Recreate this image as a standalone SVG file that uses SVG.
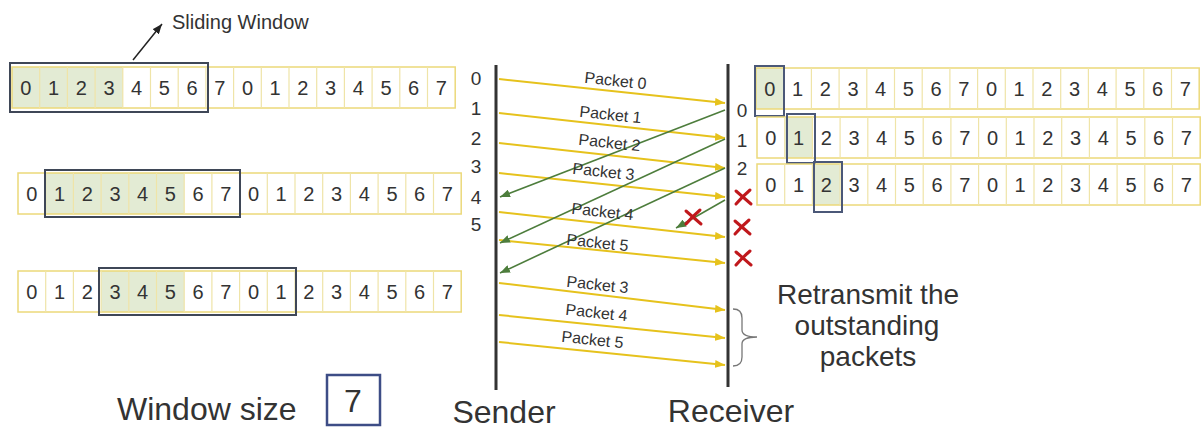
<svg xmlns="http://www.w3.org/2000/svg" xmlns:xlink="http://www.w3.org/1999/xlink" width="1204" height="430" viewBox="0 0 1204 430">
<style>
  text { font-family: "Liberation Sans", Arial, sans-serif; fill: #333; }
  .cellbox { fill: #fff; stroke: #ecd97a; stroke-width: 1.5; }
  .div { stroke: #efe4a8; stroke-width: 1.2; fill: none; }
  .hl { fill: #e3ebd4; }
  .win { fill: none; stroke: #3f4757; stroke-width: 2; }
  .winr { fill: none; stroke: #4b5878; stroke-width: 2; }
  .digits { font-size: 20px; text-anchor: middle; }
  .num { font-size: 19px; text-anchor: middle; }
  .pk { font-size: 16px; text-anchor: middle; }
  .big { font-size: 32px; }
  .ret { font-size: 28px; text-anchor: middle; }
  .timeline { stroke: #333; stroke-width: 3; }
  .pkt { stroke: #e6c21c; stroke-width: 2; fill: none; marker-end: url(#ya); }
  .ack { stroke: #4d7d3c; stroke-width: 1.6; fill: none; marker-end: url(#ga); }
  .xmark { stroke: #c0181c; stroke-width: 3; fill: none; stroke-linecap: round; }
</style>
<defs>
  <marker id="ya" markerUnits="userSpaceOnUse" markerWidth="10" markerHeight="8" refX="10" refY="4" orient="auto">
    <path d="M0,0 L10,4 L0,8 z" fill="#e6c21c"/>
  </marker>
  <marker id="ga" markerUnits="userSpaceOnUse" markerWidth="10" markerHeight="8" refX="10" refY="4" orient="auto">
    <path d="M0,0 L10,4 L0,8 z" fill="#4d7d3c"/>
  </marker>
  <marker id="ba" markerUnits="userSpaceOnUse" markerWidth="10" markerHeight="8" refX="10" refY="4" orient="auto">
    <path d="M0,0 L10,4 L0,8 z" fill="#222"/>
  </marker>
  <g id="cells">
    <rect class="cellbox" x="0" y="0" width="443.2" height="41" style="fill:none"/>
    <path class="div" d="M27.7,0V41M55.4,0V41M83.1,0V41M110.8,0V41M138.5,0V41M166.2,0V41M193.9,0V41M221.6,0V41M249.3,0V41M277,0V41M304.7,0V41M332.4,0V41M360.1,0V41M387.8,0V41M415.5,0V41"/>
    <text class="digits" y="28" x="13.85 41.55 69.25 96.95 124.65 152.35 180.05 207.75 235.45 263.15 290.85 318.55 346.25 373.95 401.65 429.35">0123456701234567</text>
  </g>
  <path id="xm" class="xmark" d="M-7,-6 Q0,0 8,7 M-7,7 Q-1,0 7,-7"/>
</defs>

<g id="sliding-window-label">
  <line x1="133" y1="60" x2="162" y2="24" stroke="#222" stroke-width="1.5" marker-end="url(#ba)"/>
  <text x="172" y="29" style="font-size:20px">Sliding Window</text>
</g>

<g id="sender-row-1" transform="translate(12,67)">
  <rect x="0" y="0" width="443.2" height="41" fill="#fff"/>
  <rect class="hl" x="0" y="0" width="110.8" height="41"/>
  <use xlink:href="#cells" href="#cells"/>
  <rect class="win" x="-2" y="-4" width="198" height="49"/>
</g>
<g id="sender-row-2" transform="translate(18,173)">
  <rect x="0" y="0" width="443.2" height="41" fill="#fff"/>
  <rect class="hl" x="27.7" y="0" width="138.5" height="41"/>
  <use xlink:href="#cells" href="#cells"/>
  <rect class="win" x="27" y="-3" width="195" height="47"/>
</g>
<g id="sender-row-3" transform="translate(18,271)">
  <rect x="0" y="0" width="443.2" height="41" fill="#fff"/>
  <rect class="hl" x="83.1" y="0" width="83.1" height="41"/>
  <use xlink:href="#cells" href="#cells"/>
  <rect class="win" x="81" y="-3" width="197" height="47"/>
</g>

<g id="receiver-row-1" transform="translate(756,68)">
  <rect x="0" y="0" width="443.2" height="41" fill="#fff"/>
  <rect class="hl" x="0" y="0" width="27.7" height="41"/>
  <use xlink:href="#cells" href="#cells"/>
  <rect class="winr" x="-1" y="-2" width="29" height="50"/>
</g>
<g id="receiver-row-2" transform="translate(757,117)">
  <rect x="0" y="0" width="443.2" height="41" fill="#fff"/>
  <rect class="hl" x="27.7" y="0" width="27.7" height="41"/>
  <use xlink:href="#cells" href="#cells"/>
  <rect class="winr" x="30" y="-3" width="28" height="49"/>
</g>
<g id="receiver-row-3" transform="translate(757,164)">
  <rect x="0" y="0" width="443.2" height="41" fill="#fff"/>
  <rect class="hl" x="55.4" y="0" width="27.7" height="41"/>
  <use xlink:href="#cells" href="#cells"/>
  <rect class="winr" x="57" y="-2" width="28" height="50"/>
</g>

<g id="sender">
  <line class="timeline" x1="496" y1="65" x2="496" y2="390"/>
  <text class="num" x="476" y="85">0</text>
  <text class="num" x="476" y="115">1</text>
  <text class="num" x="476" y="145">2</text>
  <text class="num" x="476" y="173">3</text>
  <text class="num" x="476" y="204">4</text>
  <text class="num" x="476" y="231">5</text>
  <text class="big" x="504" y="423" text-anchor="middle">Sender</text>
</g>

<g id="receiver">
  <line class="timeline" x1="728" y1="64" x2="728" y2="387"/>
  <text class="num" x="742" y="117">0</text>
  <text class="num" x="742" y="147">1</text>
  <text class="num" x="742" y="175">2</text>
  <text class="big" x="731" y="422" text-anchor="middle">Receiver</text>
</g>

<g id="connectors">
  <line class="pkt" x1="499" y1="79" x2="725" y2="103"/>
  <line class="pkt" x1="499" y1="113" x2="725" y2="138"/>
  <line class="pkt" x1="499" y1="143" x2="725" y2="168"/>
  <line class="pkt" x1="499" y1="173" x2="725" y2="197"/>
  <line class="pkt" x1="499" y1="212" x2="725" y2="237"/>
  <line class="pkt" x1="499" y1="240" x2="725" y2="263"/>
  <line class="pkt" x1="499" y1="283" x2="725" y2="310"/>
  <line class="pkt" x1="499" y1="315" x2="725" y2="338"/>
  <line class="pkt" x1="499" y1="342" x2="725" y2="365"/>
  <line class="ack" x1="725" y1="110" x2="500" y2="197"/>
  <line class="ack" x1="725" y1="139" x2="500" y2="243"/>
  <line class="ack" x1="725" y1="168" x2="500" y2="273"/>
  <line class="ack" x1="725" y1="200" x2="676" y2="228"/>
</g>

<g id="packet-labels">
  <text class="pk" x="615" y="86" transform="rotate(6 615 86)">Packet 0</text>
  <text class="pk" x="610" y="120" transform="rotate(6 610 120)">Packet 1</text>
  <text class="pk" x="609" y="148" transform="rotate(6 609 148)">Packet 2</text>
  <text class="pk" x="603" y="177" transform="rotate(6 603 177)">Packet 3</text>
  <text class="pk" x="602" y="217" transform="rotate(6 602 217)">Packet 4</text>
  <text class="pk" x="597" y="248" transform="rotate(6 597 248)">Packet 5</text>
  <text class="pk" x="597" y="290" transform="rotate(6 597 290)">Packet 3</text>
  <text class="pk" x="596" y="318" transform="rotate(6 596 318)">Packet 4</text>
  <text class="pk" x="592" y="345" transform="rotate(6 592 345)">Packet 5</text>
</g>

<g id="losses">
  <use xlink:href="#xm" href="#xm" transform="translate(743,197)"/>
  <use xlink:href="#xm" href="#xm" transform="translate(742,227)"/>
  <use xlink:href="#xm" href="#xm" transform="translate(743,258)"/>
  <use xlink:href="#xm" href="#xm" transform="translate(693,217)"/>
</g>

<g id="retransmit">
  <path d="M733,309 Q742,309 742,318 L742,330 Q742,337 757,337 Q742,337 742,344 L742,357 Q742,366 733,366" fill="none" stroke="#777" stroke-width="1.3"/>
  <text class="ret" x="868" y="304">Retransmit the</text>
  <text class="ret" x="867" y="335">outstanding</text>
  <text class="ret" x="868" y="366">packets</text>
</g>

<g id="window-size">
  <text class="big" x="117" y="420">Window size</text>
  <rect x="327" y="375" width="53" height="50" fill="#fff" stroke="#3d4d86" stroke-width="2.5"/>
  <text class="big" x="353" y="412" text-anchor="middle">7</text>
</g>
</svg>
